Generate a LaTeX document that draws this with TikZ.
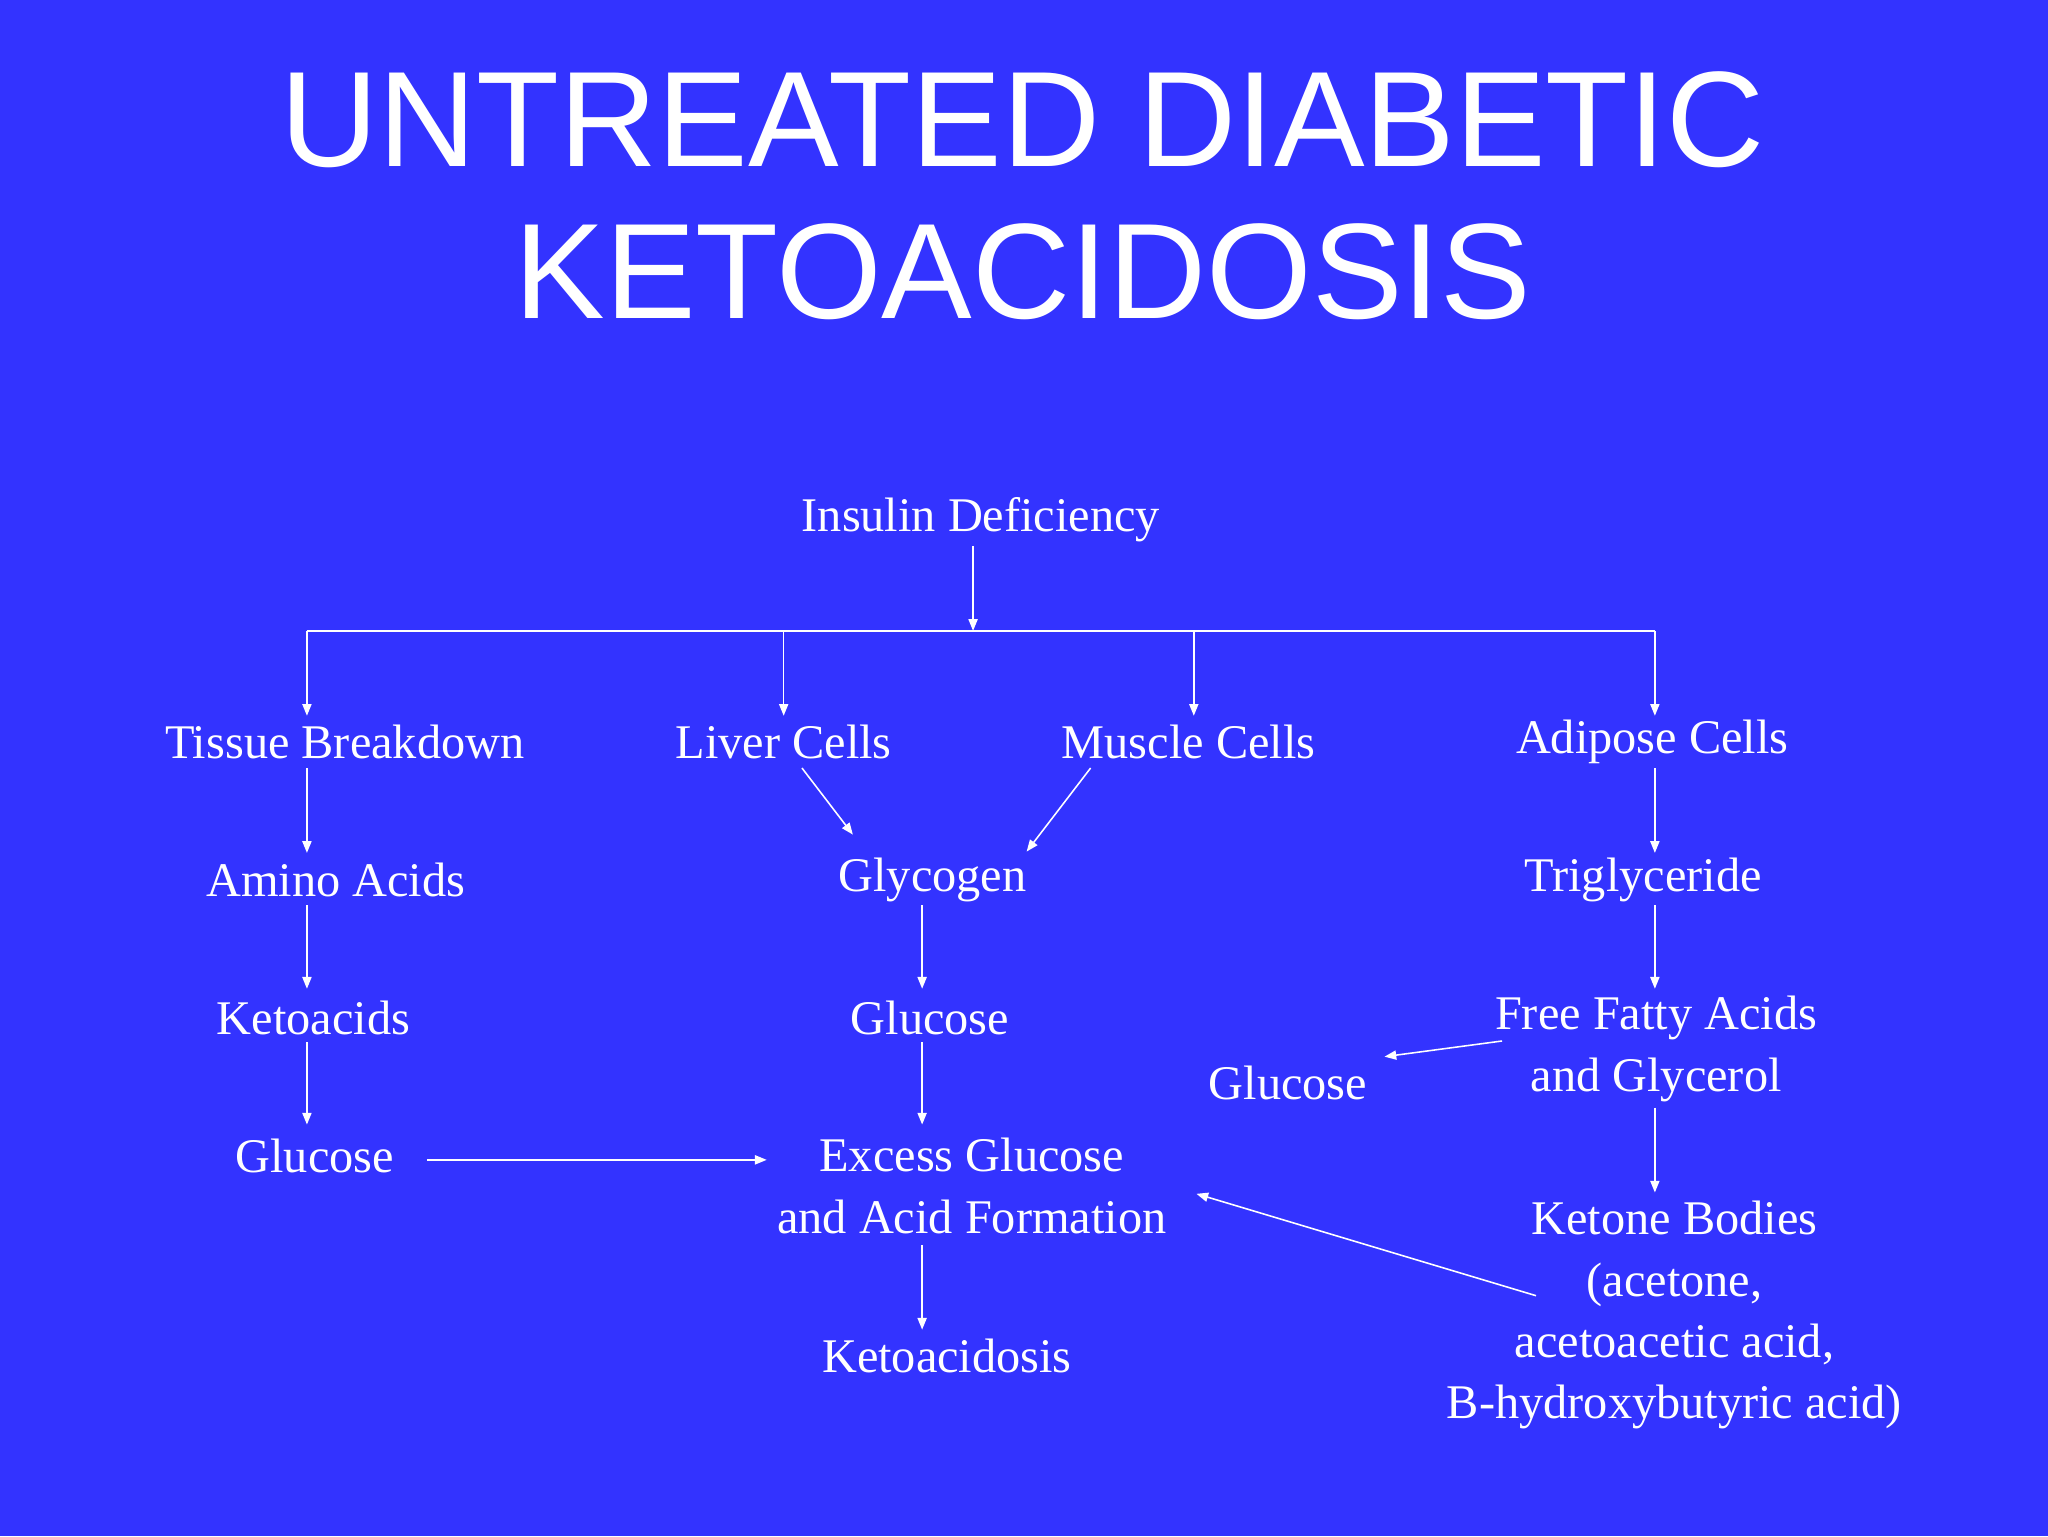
\documentclass[tikz,border=0pt]{standalone}
\usepackage{fontspec}
\setmainfont{Liberation Serif}
\newfontfamily\titlefont{Liberation Sans}
\usetikzlibrary{arrows.meta}
\definecolor{bg}{HTML}{3333FF}
\begin{document}
\begin{tikzpicture}[x=1pt,y=-1pt,
  lbl/.style={text=white,font=\fontsize{37}{47}\selectfont,align=center,inner sep=0pt},
  ttl/.style={text=white,font=\titlefont\fontsize{104}{116}\selectfont,align=center,inner sep=0pt},
  arr/.style={draw=white,line width=1.2pt,-{Triangle[width=7pt,length=9pt]}},
  ln/.style={draw=white,line width=1.2pt}]
\fill[bg] (0,0) rectangle (1568,1176);
\useasboundingbox (0,0) rectangle (1568,1176);
\node[ttl] (title) at (783,150) {UNTREATED DIABETIC\\KETOACIDOSIS};
\node[lbl] (ins) at (751,398) {Insulin Deficiency};
\node[lbl] (tb) at (264,568) {Tissue Breakdown};
\node[lbl] (lc) at (600,568) {Liver Cells};
\node[lbl] (mc) at (910,568) {Muscle Cells};
\node[lbl] (ac) at (1265,568) {Adipose Cells};
\node[lbl] (aa) at (257,674) {Amino Acids};
\node[lbl] (ka) at (240,779) {Ketoacids};
\node[lbl] (g1) at (241,885) {Glucose};
\node[lbl] (gly) at (714,674) {Glycogen};
\node[lbl] (g2) at (712,779) {Glucose};
\node[lbl] (ex) at (744,908) {Excess Glucose\\and Acid Formation};
\node[lbl] (kd) at (725,1038) {Ketoacidosis};
\node[lbl] (tg) at (1258,674) {Triglyceride};
\node[lbl] (ffa) at (1268,803) {Free Fatty Acids\\and Glycerol};
\node[lbl] (g3) at (986,829) {Glucose};
\node[lbl] (kb) at (1282,1007) {Ketone Bodies\\(acetone,\\acetoacetic acid,\\B-hydroxybutyric acid)};
% connectors
\coordinate (j) at (745,483);
\coordinate (jl) at (235,483);
\coordinate (jr) at (1267,483);
\draw[arr] (745,418) -- (j);
\draw[ln] (jl) -- (jr);
\draw[arr] (jl) -- (235,548);
\draw[arr] (600,483) -- (600,548);
\draw[arr] (914,483) -- (914,548);
\draw[arr] (jr) -- (1267,548);
\draw[arr] (235,588) -- (235,653);
\draw[arr] (235,693) -- (235,757);
\draw[arr] (235,798) -- (235,861);
\draw[arr] (614,588) -- (653,639);
\draw[arr] (835,588) -- (786,652);
\draw[arr] (706,693) -- (706,757);
\draw[arr] (706,798) -- (706,861);
\draw[arr] (327,888) -- (587,888);
\draw[arr] (706,953) -- (706,1018);
\draw[arr] (1267,588) -- (1267,653);
\draw[arr] (1267,693) -- (1267,757);
\draw[arr] (1150,797) -- (1060,809);
\draw[arr] (1267,848) -- (1267,913);
\draw[arr] (1176,992) -- (916,914);
\end{tikzpicture}
\end{document}
